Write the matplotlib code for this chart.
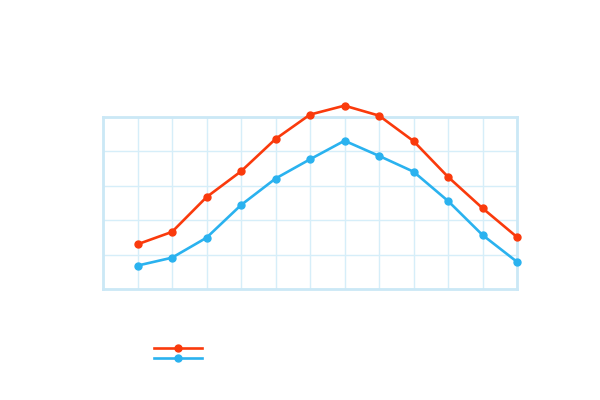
import matplotlib
matplotlib.use("Agg")
import matplotlib.pyplot as plt
import numpy as np

months = list(range(1, 13))
series_red = [13.0, 16.6, 26.7, 34.2, 43.6, 50.7, 53.3, 50.4, 43.0, 32.6, 23.5, 15.1]
series_blue = [6.8, 9.1, 14.9, 24.4, 32.1, 37.7, 43.1, 38.7, 34.1, 25.6, 15.7, 7.9]

RED = "#fa3a0c"
BLUE = "#2ab2ef"
GRID = "#d6eef9"
BORDER = "#cbe8f6"

fig = plt.figure(figsize=(6, 4), dpi=100)
ax = fig.add_axes([103/600, 1 - 289/400, 414/600, 172/400])

ax.set_xlim(0, 12)
ax.set_ylim(0, 50)
ax.set_xticks(np.arange(0, 13, 1))
ax.set_yticks(np.arange(0, 51, 10))
ax.tick_params(length=0, labelbottom=False, labelleft=False)
ax.grid(True, color=GRID, linewidth=1.0)
ax.set_axisbelow(True)
for s in ax.spines.values():
    s.set_color(BORDER)
    s.set_linewidth(2.0)

l1, = ax.plot(months, series_red, color=RED, lw=1.9, marker="o", ms=5, clip_on=False, zorder=3)
l2, = ax.plot(months, series_blue, color=BLUE, lw=1.9, marker="o", ms=5, clip_on=False, zorder=3)

leg = fig.legend([l1, l2], [" ", " "], loc="upper left",
                 bbox_to_anchor=(146/600, 1 - 336/400), frameon=False,
                 handlelength=4.95, handletextpad=0.0, labelspacing=0.0,
                 numpoints=1, fontsize=7, borderpad=0.3)

fig.savefig("out.png", dpi=100)
